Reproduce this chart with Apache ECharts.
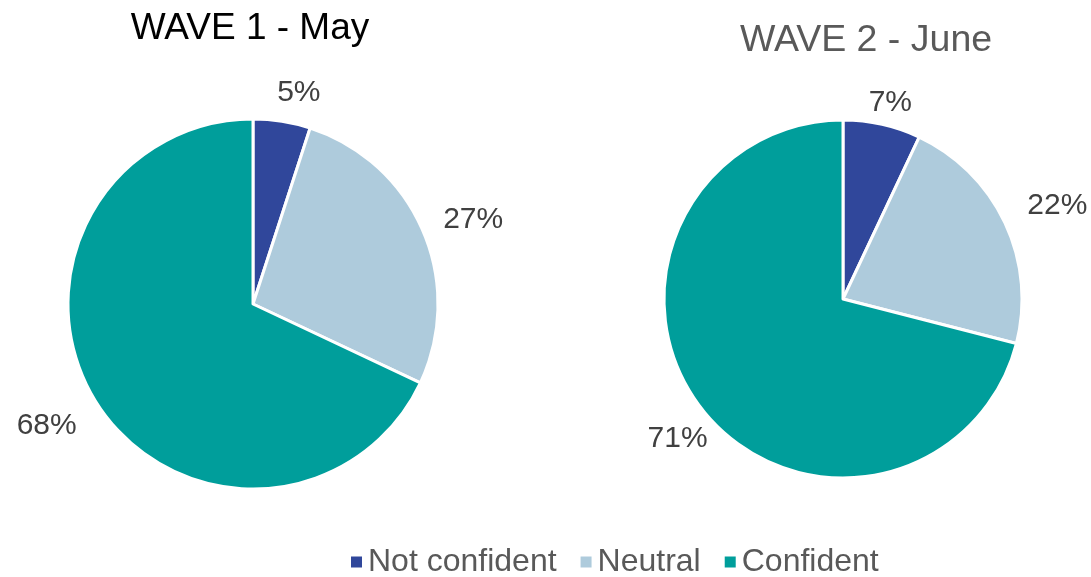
<!DOCTYPE html>
<html>
<head>
<meta charset="utf-8">
<title>Confidence by wave</title>
<script src="https://cdn.jsdelivr.net/npm/echarts@6/dist/echarts.min.js"></script>
<style>
  html, body { margin: 0; padding: 0; background: #ffffff; }
  #chart { width: 1091px; height: 577px; }
</style>
</head>
<body>
<div id="chart"></div>
<script>
// Survey answers, percent of respondents per wave
const categories = ['Not confident', 'Neutral', 'Confident'];
const wave1 = [5, 27, 68];
const wave2 = [7, 22, 71];
const titles = ['WAVE 1 - May', 'WAVE 2 - June'];
const colors = ['#30479B', '#AECBDC', '#009E9B'];

const FONT = '"Liberation Sans", Arial, sans-serif';

function toData(values, nudges) {
  return categories.map((name, i) => {
    const item = { name: name, value: values[i] };
    if (nudges) item.label = { offset: nudges[i] };
    return item;
  });
}

// Visible pie slices
function pieSeries(values, center, radius) {
  return {
    type: 'pie',
    center: center,
    radius: radius,
    startAngle: 90,
    clockwise: true,
    data: toData(values),
    label: { show: false },
    labelLine: { show: false },
    itemStyle: { borderColor: '#ffffff', borderWidth: 3 },
    emphasis: { disabled: true }
  };
}

// Transparent ring carrying the percentage labels around each slice's mid-angle,
// with a small per-label nudge so short and long labels sit clear of the rim
function labelRing(values, center, radius, nudges) {
  return {
    type: 'pie',
    center: center,
    radius: radius,
    startAngle: 90,
    clockwise: true,
    silent: true,
    data: toData(values, nudges),
    itemStyle: { color: 'rgba(0,0,0,0)', borderWidth: 0 },
    label: {
      show: true,
      position: 'inside',
      formatter: '{c}%',
      color: '#404040',
      fontSize: 30,
      fontFamily: FONT
    },
    labelLine: { show: false },
    emphasis: { disabled: true }
  };
}

const chart = echarts.init(document.getElementById('chart'), null, { renderer: 'canvas' });

chart.setOption({
  animation: false,
  color: colors,
  title: [
    {
      text: titles[0], left: 250, top: 10, textAlign: 'center', padding: 0,
      textStyle: { color: '#000000', fontSize: 37, fontWeight: 'normal', fontFamily: FONT }
    },
    {
      text: titles[1], left: 866, top: 22, textAlign: 'center', padding: 0,
      textStyle: { color: '#595959', fontSize: 37.5, fontWeight: 'normal', fontFamily: FONT }
    }
  ],
  legend: {
    data: categories,
    left: 349,
    top: 546,
    icon: 'rect',
    itemWidth: 13,
    itemHeight: 13,
    itemGap: 22,
    itemTextGap: 9,
    padding: 0,
    textStyle: { color: '#595959', fontSize: 32, fontFamily: FONT }
  },
  series: [
    pieSeries(wave1, [253, 304], 185),
    pieSeries(wave2, [843, 299], 179),
    labelRing(wave1, [253, 304], [216, 236], [[10, 15], [10, 7], [-13, -1]]),
    labelRing(wave2, [843, 299], [204, 224], [[0, 16], [18, -1], [6, 7]])
  ]
});
</script>
</body>
</html>
